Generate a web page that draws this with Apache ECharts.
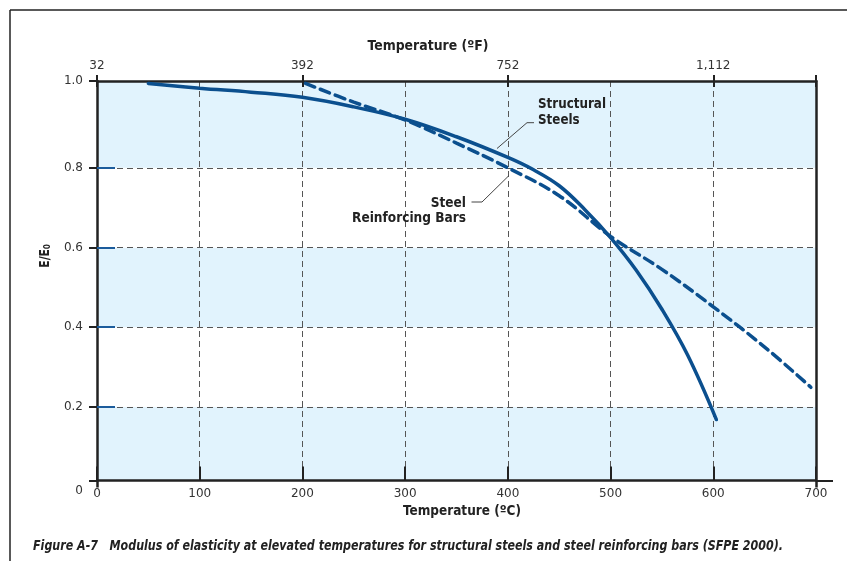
<!DOCTYPE html>
<html>
<head>
<meta charset="utf-8">
<script src="https://cdn.jsdelivr.net/npm/echarts@6/dist/echarts.min.js"></script>
<style>html,body{margin:0;padding:0;background:#fff}#c{width:847px;height:561px}</style>
</head>
<body>
<div id="c"></div>
<script>
// ---- data ----
const TOP_TICK_LABELS = ['32', '392', '752', '1,112'];          // °F at 0,200,400,600 °C
const Y_TICK_LABELS = ['0', '0.2', '0.4', '0.6', '0.8', '1.0'];
const Y_GRID_VALUES = [0.2, 0.4, 0.6, 0.8];
const Y_MIN = 0.015, Y_MAX = 1.018;  // extent of the drawn box
const STRUCT_T = [50, 100, 150, 200, 250, 300, 350, 400, 425, 450, 475, 500, 525, 550, 575, 603];
const STRUCT_V = [1.012, 1.0, 0.99, 0.977, 0.953, 0.922, 0.878, 0.826, 0.795, 0.755, 0.695, 0.625, 0.543, 0.445, 0.33, 0.168];
const REBAR_T = [203, 250, 300, 350, 400, 450, 500, 550, 600, 650, 695];
const REBAR_V = [1.012, 0.965, 0.92, 0.862, 0.80, 0.73, 0.628, 0.545, 0.451, 0.35, 0.249];

const COND = "'Liberation Sans Narrow', 'DejaVu Sans Condensed', 'Arial Narrow', sans-serif";
const LBL = "'DejaVu Sans', sans-serif";
const INK = '#222';
const BLUE = '#0b4f8e';
const Y_TICK_VALUES = [Y_MIN].concat(Y_GRID_VALUES, [Y_MAX]);

const mctx = document.createElement('canvas').getContext('2d');
function fit(text, font, target) {
  mctx.font = font;
  const w = mctx.measureText(text).width;
  return w > 0 ? target / w : 1;
}

const chart = echarts.init(document.getElementById('c'), null, {renderer: 'canvas'});
const pairs = (xs, ys) => xs.map((x, i) => [x, ys[i]]);

const gridLine = {show: true, lineStyle: {color: '#555', width: 1, type: [6, 4]}};

const CAPTION = 'Figure A-7   Modulus of elasticity at elevated temperatures for structural steels and steel reinforcing bars (SFPE 2000).';
const F_TITLE = 'bold 14px ' + COND;
const F_CAP = 'italic bold 14px ' + COND;
const sTitleF = fit('Temperature (ºF)', F_TITLE, 121);
const sTitleC = fit('Temperature (ºC)', F_TITLE, 118);
const sCap = fit(CAPTION, F_CAP, 750);
const sStruct = fit('Structural', F_TITLE, 68);
const sRebar = fit('Reinforcing Bars', F_TITLE, 114);

chart.setOption({
  animation: false,
  backgroundColor: '#fff',
  grid: {left: 97, right: 31, top: 81, bottom: 80.5, containLabel: false},
  xAxis: [
    { // bottom °C
      type: 'value', position: 'bottom', min: 0, max: 700, interval: 100,
      axisLine: {show: true, onZero: false, lineStyle: {color: INK, width: 2.5}},
      axisTick: {show: true, inside: true, length: 14, lineStyle: {color: INK, width: 2}},
      axisLabel: {color: '#333', fontFamily: LBL, fontSize: 12, margin: 7},
      splitLine: gridLine
    },
    { // top °F labels, outward ticks
      type: 'value', position: 'top', min: 0, max: 700, interval: 200,
      axisLine: {show: true, onZero: false, lineStyle: {color: INK, width: 2.5}},
      axisTick: {show: true, inside: false, length: 6, customValues: [0, 200, 400, 600, 700],
        lineStyle: {color: INK, width: 2}},
      axisLabel: {color: '#333', fontFamily: LBL, fontSize: 12, margin: 9,
        formatter: (v) => TOP_TICK_LABELS[Math.round(v / 200)] || ''},
      splitLine: {show: false}
    },
    { // top inward ticks
      type: 'value', position: 'top', min: 0, max: 700, interval: 200,
      axisLine: {show: false},
      axisTick: {show: true, inside: true, length: 6, lineStyle: {color: INK, width: 2}},
      axisLabel: {show: false}, splitLine: {show: false}
    },
    { // box sides extending below the bottom axis
      type: 'value', position: 'bottom', min: 0, max: 700,
      axisLine: {show: false},
      axisTick: {show: true, inside: false, length: 7, customValues: [0, 700], lineStyle: {color: INK, width: 2.5}},
      axisLabel: {show: false}, splitLine: {show: false}
    }
  ],
  yAxis: [
    {
      type: 'value', position: 'left', min: Y_MIN, max: Y_MAX,
      axisLine: {show: true, onZero: false, lineStyle: {color: INK, width: 2.5}},
      axisTick: {show: true, inside: false, length: 8, customValues: Y_TICK_VALUES,
        lineStyle: {color: INK, width: 2}},
      axisLabel: {customValues: Y_TICK_VALUES, color: '#333', fontFamily: LBL, fontSize: 12, margin: 14,
        formatter: (v) => {
          const i = Y_TICK_VALUES.indexOf(v);
          return i === 0 ? '{z|' + Y_TICK_LABELS[0] + '}' : Y_TICK_LABELS[i];
        },
        rich: {z: {fontFamily: LBL, fontSize: 12, color: '#333', padding: [21, 0, 0, 0]}}
      },
      splitLine: gridLine,
      splitArea: {show: true, areaStyle: {color: ['#e1f3fd', '#ffffff']}}
    },
    { // right border
      type: 'value', position: 'right', min: Y_MIN, max: Y_MAX,
      axisLine: {show: true, onZero: false, lineStyle: {color: INK, width: 2.5}},
      axisTick: {show: true, inside: false, length: 17, customValues: [Y_MIN], lineStyle: {color: INK, width: 2}},
      axisLabel: {show: false}, splitLine: {show: false}
    },
    { // short blue inner ticks on left
      type: 'value', position: 'left', min: Y_MIN, max: Y_MAX,
      axisLine: {show: false},
      axisTick: {show: true, inside: true, length: 18, customValues: Y_GRID_VALUES,
        lineStyle: {color: '#1c5c9c', width: 2}},
      axisLabel: {show: false}, splitLine: {show: false}
    }
  ],
  series: [
    {
      name: 'Structural Steels', type: 'line', xAxisIndex: 0, yAxisIndex: 0,
      data: pairs(STRUCT_T, STRUCT_V), smooth: 0.4, showSymbol: false, symbol: 'none',
      lineStyle: {color: BLUE, width: 3.5, cap: 'round'}, z: 5
    },
    {
      name: 'Steel Reinforcing Bars', type: 'line', xAxisIndex: 0, yAxisIndex: 0,
      data: pairs(REBAR_T, REBAR_V), smooth: 0.4, showSymbol: false, symbol: 'none',
      lineStyle: {color: BLUE, width: 3.5, type: [10, 6], cap: 'round'}, z: 5
    }
  ],
  graphic: {elements: [
    {type: 'line', z: 100, shape: {x1: 10, y1: 10, x2: 847, y2: 10}, style: {stroke: INK, lineWidth: 1.5}},
    {type: 'line', z: 100, shape: {x1: 10, y1: 10, x2: 10, y2: 561}, style: {stroke: INK, lineWidth: 1.5}},
    {type: 'text', z: 100, x: 428, y: 46, scaleX: sTitleF, style: {text: 'Temperature (ºF)', font: F_TITLE,
      fill: INK, align: 'center', verticalAlign: 'middle'}},
    {type: 'text', z: 100, x: 462, y: 511, scaleX: sTitleC, style: {text: 'Temperature (ºC)', font: F_TITLE,
      fill: INK, align: 'center', verticalAlign: 'middle'}},
    {type: 'text', z: 100, x: 45, y: 256, rotation: Math.PI / 2, scaleX: 0.85, style: {
      text: 'E/E{s|0}', font: F_TITLE, fill: INK, align: 'center', verticalAlign: 'middle',
      rich: {s: {font: 'bold 9px ' + COND, fill: INK, padding: [6, 0, 0, 0]}}}},
    {type: 'text', z: 100, x: 33, y: 546, scaleX: sCap, style: {text: CAPTION,
      font: F_CAP, fill: INK, align: 'left', verticalAlign: 'middle'}},
    {type: 'text', z: 100, x: 538, y: 104, scaleX: sStruct, style: {text: 'Structural', font: F_TITLE,
      fill: INK, align: 'left', verticalAlign: 'middle'}},
    {type: 'text', z: 100, x: 538, y: 120, scaleX: sStruct, style: {text: 'Steels', font: F_TITLE,
      fill: INK, align: 'left', verticalAlign: 'middle'}},
    {type: 'polyline', z: 100, shape: {points: [[534, 122.7], [527, 122.7], [497, 148.5]]},
      style: {stroke: '#444', lineWidth: 1, fill: null}},
    {type: 'text', z: 100, x: 466, y: 203, scaleX: sRebar, style: {text: 'Steel', font: F_TITLE,
      fill: INK, align: 'right', verticalAlign: 'middle'}},
    {type: 'text', z: 100, x: 466, y: 218, scaleX: sRebar, style: {text: 'Reinforcing Bars', font: F_TITLE,
      fill: INK, align: 'right', verticalAlign: 'middle'}},
    {type: 'polyline', z: 100, shape: {points: [[471.5, 202], [482, 202], [509, 175.5]]},
      style: {stroke: '#444', lineWidth: 1, fill: null}}
  ]}
});
</script>
</body>
</html>
